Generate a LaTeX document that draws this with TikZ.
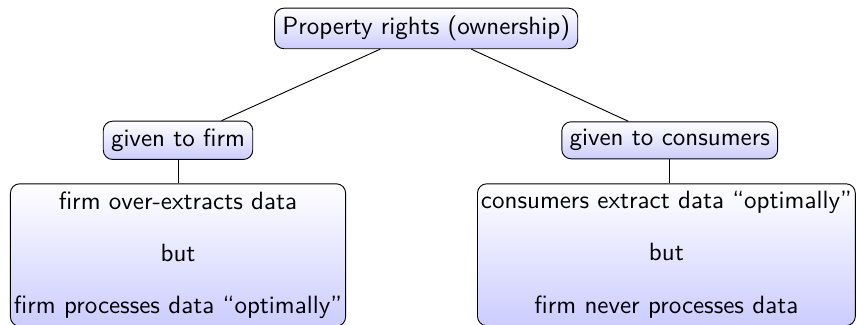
\documentclass[tikz,border=0pt]{standalone}
\begin{document}
\begin{tikzpicture}[font=\sffamily\fontsize{10.75}{12.9}\selectfont,
  box/.style={draw, rounded corners, top color=white, bottom color=blue!20},
  bigbox/.style={box, align=center, inner xsep=1.5pt}]
  \useasboundingbox (0,0) rectangle (12.95,-4.9);
  \node [box] (root) at (6.44,-0.43) {Property rights (ownership)};
  \node [box] (firm) at (2.69,-2.12) {given to firm};
  \node [box] (cons) at (10.12,-2.12) {given to consumers};
  \node [bigbox, anchor=north] (firmres) at (2.69,-2.77)
    {firm over-extracts data\\[9.5pt] but\\[9.5pt] firm processes data ``optimally''};
  \node [bigbox, anchor=north] (consres) at (10.07,-2.77)
    {consumers extract data ``optimally''\\[9.5pt] but\\[9.5pt] firm never processes data};
  \draw (root) -- (firm);
  \draw (root) -- (cons);
  \draw (firm) -- (firmres);
  \draw (cons.south) -- (cons.south |- consres.north);
\end{tikzpicture}
\end{document}
